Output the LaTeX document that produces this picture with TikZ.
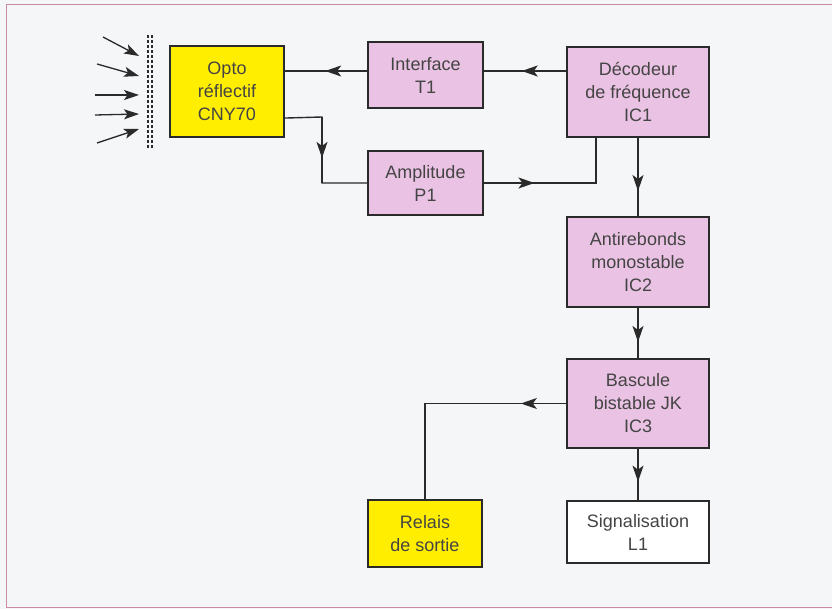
\documentclass[tikz,border=0pt]{standalone}
\usepackage{fontspec}
\setmainfont{Liberation Sans}
\usetikzlibrary{arrows.meta,decorations.markings}
\definecolor{boxpink}{HTML}{EAC2E3}
\definecolor{boxyellow}{HTML}{FFEE00}
\definecolor{bgc}{HTML}{F5F6F8}
\definecolor{framec}{HTML}{C88AA6}
\definecolor{txt}{HTML}{444444}
\definecolor{linec}{HTML}{2A2A2A}
\begin{document}
\begin{tikzpicture}[x=1pt,y=-1pt,
  blk/.style={draw=linec, line width=2.1pt, align=center, text=txt,
    font=\fontsize{18}{23}\selectfont, inner sep=0pt},
  pinkbox/.style={blk, fill=boxpink},
  yellowbox/.style={blk, fill=boxyellow},
  whitebox/.style={blk, fill=white},
  conn/.style={draw=linec, line width=1.4pt},
  midarr/.style={conn, postaction={decorate}, decoration={markings,
    mark=at position #1 with {\arrow[linec]{Stealth[length=16pt,width=11pt,inset=4pt]}}}},
  inarrow/.style={draw=linec, line width=1.3pt, -{Stealth[length=15pt,width=10pt,inset=3.5pt]}},
  reflector/.style={draw=linec, line width=1.3pt, dash pattern=on 3pt off 2pt}
]
\useasboundingbox (0,0) rectangle (832,609);
\fill[bgc] (0,0) rectangle (832,609);
\draw[framec, line width=1pt] (832,5) -- (6,5) -- (6,607) -- (832,607);

% boxes
\node[yellowbox, minimum width=114pt, minimum height=91pt] (opto) at (227,91.5) {Opto\\réflectif\\CNY70};
\node[pinkbox, minimum width=115pt, minimum height=66pt] (int) at (425.5,75) {Interface\\T1};
\node[pinkbox, minimum width=115pt, minimum height=64pt] (amp) at (425.5,183) {Amplitude\\P1};
\node[pinkbox, minimum width=142pt, minimum height=90pt] (dec) at (638,92) {Décodeur\\de fréquence\\IC1};
\node[pinkbox, minimum width=142pt, minimum height=90pt] (anti) at (638,262) {Antirebonds\\monostable\\IC2};
\node[pinkbox, minimum width=142pt, minimum height=89pt] (basc) at (638,403.5) {Bascule\\bistable JK\\IC3};
\node[yellowbox, minimum width=114pt, minimum height=67pt] (rel) at (425,533.5) {Relais\\de sortie};
\node[whitebox, minimum width=142pt, minimum height=62pt] (sig) at (638,532) {Signalisation\\L1};

% connectors
\draw[midarr=0.54] (dec.west |- 0,71) -- (int.east |- 0,71);
\draw[midarr=0.51] (int.west |- 0,71) -- (opto.east |- 0,71);

\coordinate (k1) at (322,117);
\draw[conn] ([yshift=20pt]opto.south east) -- (k1) |- (amp.west);
\draw[midarr=0.62] (k1) -- (k1 |- amp.west);

\coordinate (k2) at ([xshift=-42pt]dec.south);
\draw[conn] (amp.east) -| (k2);
\draw[midarr=0.45] (amp.east) -- (amp.east -| k2);

\draw[midarr=0.68] (dec.south) -- (anti.north);
\draw[midarr=0.68] (anti.south) -- (basc.north);
\draw[midarr=0.64] (basc.south) -- (sig.north);

\draw[conn] (basc.west) -| (rel.north);
\draw[midarr=0.32] (basc.west) -- (basc.west -| rel.north);

% incoming light and reflector
\draw[reflector] (148,35) -- (148,149);
\draw[reflector] (152,35) -- (152,149);
\draw[inarrow] (103,37) -- (139,56);
\draw[inarrow] (97,64) -- (139,76);
\draw[inarrow] (95,95) -- (139,95);
\draw[inarrow] (95,115) -- (139,114);
\draw[inarrow] (97,143) -- (139,129);
\end{tikzpicture}
\end{document}
